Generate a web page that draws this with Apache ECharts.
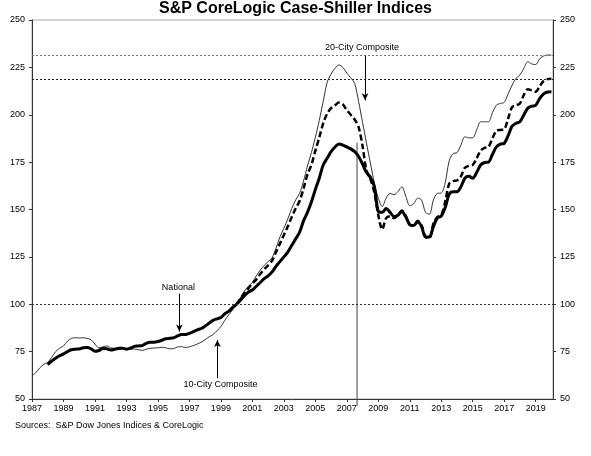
<!DOCTYPE html>
<html>
<head>
<meta charset="utf-8">
<script src="https://cdn.jsdelivr.net/npm/echarts@6/dist/echarts.min.js"></script>
<style>html,body{margin:0;padding:0;background:#fff}#c{width:591px;height:456px}</style>
</head>
<body>
<div id="c"></div>
<script>
// Quarterly observations starting Jan 1987 (step = 1/4 year), index values (Jan 2000 = 100)
var startYear = 1987;
var stepYears = 0.25;
var yearTicks = [1987,1989,1991,1993,1995,1997,1999,2001,2003,2005,2007,2009,2011,2013,2015,2017,2019];

var tenCity = [
  62.2,64.0,66.5,68.3, 69.3,72.0,75.0,76.8, 78.0,80.5,82.0,82.3, 82.2,82.3,82.0,81.3,
  79.0,77.0,77.5,78.0, 77.0,76.8,77.3,77.2, 76.4,76.2,76.4,76.0, 75.7,76.2,76.8,76.9,
  77.0,77.3,77.0,76.5, 76.6,77.5,77.6,77.2, 77.5,78.2,79.0,80.0, 81.3,82.8,84.0,86.0,
  88.2,91.5,94.5,97.0, 100.0,103.5,107.0,109.5, 111.5,115.0,118.0,120.5, 122.5,124.5,129.5,135.5,
  140.0,145.0,150.5,155.0, 158.5,165.0,173.0,180.0, 188.0,197.0,207.0,217.0, 221.5,224.5,226.3,225.0,
  222.0,219.5,216.5,207.0, 196.0,185.0,174.5,164.0, 156.0,151.5,156.0,158.5, 157.8,159.5,162.0,157.0,
  152.0,153.0,156.0,155.0, 148.5,147.5,155.0,158.5, 158.7,164.0,175.5,179.5, 180.0,184.0,188.4,187.8,
  187.8,192.0,196.3,196.3, 196.3,201.0,205.0,206.0, 206.5,211.0,215.5,219.2, 221.0,224.5,228.0,226.8,
  226.5,229.5,231.0,231.5, 231.5
];

var twentyCity = [
  null,null,null,null, null,null,null,null, null,null,null,null, null,null,null,null,
  null,null,null,null, null,null,null,null, null,null,null,null, null,null,null,null,
  null,null,null,null, null,null,null,null, null,null,null,null, null,null,null,null,
  null,null,null,null, 100.0,103.0,106.0,108.5, 111.0,113.0,116.0,118.5, 120.5,123.0,127.5,132.0,
  136.5,141.0,146.0,150.5, 154.5,161.0,168.5,173.5, 181.0,188.0,195.5,200.5, 203.5,205.0,206.4,205.5,
  202.5,200.0,197.5,193.5, 183.5,170.5,166.0,159.0, 147.0,139.5,145.5,146.5, 145.5,147.0,149.5,146.5,
  142.0,141.5,144.0,141.5, 135.5,135.0,142.5,146.0, 147.0,154.0,163.5,165.0, 165.3,167.5,172.0,173.0,
  173.5,177.0,181.0,182.5, 183.0,187.5,191.5,192.0, 192.3,198.0,204.0,205.0, 206.0,210.5,213.5,212.8,
  212.2,215.0,217.8,218.8, 219.0
];

var national = [
  null,null,null,null, 68.2,70.0,71.5,72.8, 73.8,75.0,76.0,76.3, 76.4,77.0,77.2,76.5,
  75.2,75.6,76.6,76.5, 75.9,76.2,76.7,76.8, 76.3,76.8,77.8,78.0, 78.2,79.3,80.0,80.0,
  80.3,81.0,81.8,82.0, 82.3,83.3,84.0,84.0, 84.6,85.5,86.5,87.2, 88.5,90.0,91.5,92.3,
  93.0,95.0,96.3,98.3, 100.0,102.3,104.5,106.5, 107.5,109.5,111.5,113.5, 115.0,117.0,120.0,122.5,
  125.0,127.5,131.0,134.5, 138.0,144.0,148.5,154.0, 160.5,166.5,173.5,177.0, 180.5,183.0,184.6,184.0,
  183.0,182.0,180.5,178.0, 174.0,169.5,167.0,162.0, 149.0,148.5,150.5,148.5, 146.3,147.0,149.0,146.0,
  142.0,141.5,143.6,141.0, 135.5,135.5,141.0,145.5, 146.5,151.0,158.0,159.4, 159.4,162.0,166.5,167.5,
  166.5,169.5,173.5,174.8, 175.0,179.0,183.0,184.5, 184.9,189.0,194.0,195.5, 196.3,200.0,203.5,204.5,
  205.0,208.5,211.0,212.0, 212.2
];

// Reference levels (dotted horizontal lines)
var refLevels = [231.5, 218.7, 100];
// Vertical marker line (year, from value, to value)
var markerYear = 2007.65, markerFrom = 46.3, markerTo = 185.2;
// Annotation labels and arrows (data units)
var labelTexts = ['20-City Composite', 'National', '10-City Composite'];
var labelAt = [[2007.96, 235.6], [1996.3, 108.7], [1998.97, 57.9]];
var arrowFrom = [[2008.16, 231.2], [1996.36, 105.6], [1998.78, 61.0]];
var arrowTo = [[2008.16, 207.6], [1996.36, 85.6], [1998.78, 81.2]];

function pairs(arr) {
  var out = [];
  for (var i = 0; i < arr.length; i++) out.push([startYear + i * stepYears, arr[i]]);
  return out;
}

var FONT = 'Liberation Sans, Arial, Helvetica, sans-serif';
var chart = echarts.init(document.getElementById('c'), null, {renderer: 'canvas'});

var refColors = ['#777', '#222', '#333'];
var mlData = refLevels.map(function (v, i) {
  return {yAxis: v, symbol: 'none', lineStyle: {color: refColors[i], type: [2, 2], width: 1}};
});
arrowFrom.forEach(function (f, i) {
  mlData.push([
    {coord: f, symbol: 'none', lineStyle: {color: '#000', type: 'solid', width: 1}, itemStyle: {color: '#000'}},
    {coord: arrowTo[i], symbol: 'arrow', symbolSize: [5, 7], itemStyle: {color: '#000'}}
  ]);
});

var mpData = labelTexts.map(function (t, i) {
  return {name: t, coord: labelAt[i]};
});

var axisLineStyle = {color: '#333', width: 1};

chart.setOption({
  animation: false,
  backgroundColor: '#fff',
  title: [
    {text: 'S&P CoreLogic Case-Shiller Indices', left: 'center', top: 1, padding: 0,
     textStyle: {fontFamily: FONT, fontSize: 16, fontWeight: 'bold', color: '#000'}},
    {text: 'Sources:  S&P Dow Jones Indices & CoreLogic', left: 15, top: 421, padding: 0,
     textStyle: {fontFamily: FONT, fontSize: 9, fontWeight: 'normal', color: '#000'}}
  ],
  grid: {left: 32, right: 38, top: 20, bottom: 57, show: true, borderColor: '#aaa', borderWidth: 1},
  xAxis: {
    type: 'value', min: startYear, max: 2020.1, interval: 2,
    splitLine: {show: false},
    axisLine: {show: true, lineStyle: axisLineStyle},
    axisTick: {show: true, length: 3, lineStyle: axisLineStyle},
    axisLabel: {fontFamily: FONT, fontSize: 9, color: '#000', margin: 5, showMaxLabel: false,
      formatter: function (v) { return yearTicks.indexOf(Math.round(v * 1000) / 1000) >= 0 ? String(v) : ''; }}
  },
  yAxis: [
    {type: 'value', min: 50, max: 250, interval: 25, position: 'left',
     splitLine: {show: false},
     axisLine: {show: true, lineStyle: axisLineStyle},
     axisTick: {show: true, length: 3, lineStyle: axisLineStyle},
     axisLabel: {fontFamily: FONT, fontSize: 9, color: '#000', margin: 7}},
    {type: 'value', min: 50, max: 250, interval: 25, position: 'right',
     splitLine: {show: false},
     axisLine: {show: true, lineStyle: axisLineStyle},
     axisTick: {show: true, length: 3, lineStyle: axisLineStyle},
     axisLabel: {fontFamily: FONT, fontSize: 9, color: '#000', margin: 7}}
  ],
  series: [
    {
      name: 'Marker', type: 'line', data: [[markerYear, markerFrom], [markerYear, markerTo]],
      showSymbol: false, symbol: 'none', clip: false, silent: true,
      lineStyle: {color: '#444', width: 1}, z: 1
    },
    {
      name: '10-City Composite', type: 'line', data: pairs(tenCity), smooth: 0.3,
      showSymbol: false, symbol: 'none', connectNulls: false,
      lineStyle: {color: '#333', width: 1}, z: 2,
      markLine: {silent: true, animation: false, symbol: 'none', label: {show: false},
        lineStyle: {color: '#000', type: 'solid', width: 1}, itemStyle: {color: '#000'},
        data: mlData},
      markPoint: {silent: true, symbol: 'circle', symbolSize: 0,
        itemStyle: {color: 'transparent'},
        label: {show: true, position: 'inside', formatter: '{b}', fontFamily: FONT, fontSize: 9, color: '#000'},
        data: mpData}
    },
    {
      name: '20-City Composite', type: 'line', data: pairs(twentyCity), smooth: 0.3,
      showSymbol: false, symbol: 'none',
      lineStyle: {color: '#000', width: 2.5, type: [6, 3]}, z: 3
    },
    {
      name: 'National', type: 'line', data: pairs(national), smooth: 0.3,
      showSymbol: false, symbol: 'none',
      lineStyle: {color: '#000', width: 3}, z: 4
    }
  ]
});
</script>
</body>
</html>
